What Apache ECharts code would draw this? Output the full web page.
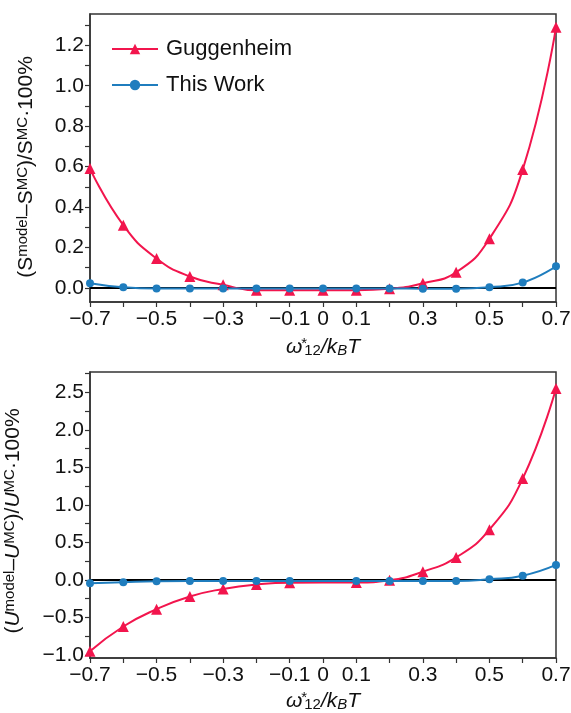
<!DOCTYPE html>
<html>
<head>
<meta charset="utf-8">
<script src="https://cdn.jsdelivr.net/npm/echarts@6/dist/echarts.min.js"></script>
<style>
  html, body { margin: 0; padding: 0; background: #fff; }
  #chart { width: 571px; height: 713px; }
</style>
</head>
<body>
<div id="chart"></div>
<script>
// Reduced interaction parameter ω*12 / kBT
const omegaEntropy = [-0.7, -0.6, -0.5, -0.4, -0.3, -0.2, -0.1, 0, 0.1, 0.2, 0.3, 0.4, 0.5, 0.6, 0.7];
// Relative deviation of entropy from MC, %
const entropyGuggenheim = [0.59, 0.31, 0.145, 0.056, 0.015, -0.012, -0.012, -0.012, -0.012, -0.005, 0.023, 0.077, 0.243, 0.585, 1.29];
const entropyThisWork = [0.023, 0.003, -0.003, -0.003, -0.003, -0.003, -0.003, -0.003, -0.003, -0.003, -0.004, -0.004, 0.003, 0.026, 0.107];

// The energy panel has no point at ω = 0
const omegaEnergy = [-0.7, -0.6, -0.5, -0.4, -0.3, -0.2, -0.1, 0.1, 0.2, 0.3, 0.4, 0.5, 0.6, 0.7];
// Relative deviation of internal energy from MC, %
const energyGuggenheim = [-0.95, -0.62, -0.39, -0.22, -0.12, -0.06, -0.036, -0.035, -0.005, 0.11, 0.30, 0.67, 1.35, 2.55];
const energyThisWork = [-0.045, -0.03, -0.018, -0.015, -0.015, -0.015, -0.013, -0.013, -0.013, -0.013, -0.013, 0.01, 0.057, 0.2];

// Axis ticks and labels
const xTicks = [-0.7, -0.6, -0.5, -0.4, -0.3, -0.2, -0.1, 0, 0.1, 0.2, 0.3, 0.4, 0.5, 0.6, 0.7];
const xLabels = [-0.7, -0.5, -0.3, -0.1, 0, 0.1, 0.3, 0.5, 0.7];
const entropyTicks = [0, 0.1, 0.2, 0.3, 0.4, 0.5, 0.6, 0.7, 0.8, 0.9, 1.0, 1.1, 1.2, 1.3];
const entropyLabels = [0, 0.2, 0.4, 0.6, 0.8, 1.0, 1.2];
const energyTicks = [-1, -0.75, -0.5, -0.25, 0, 0.25, 0.5, 0.75, 1, 1.25, 1.5, 1.75, 2, 2.25, 2.5, 2.75];
const energyLabels = [-1, -0.5, 0, 0.5, 1, 1.5, 2, 2.5];

const RED = '#F2154D';
const BLUE = '#1F7DBE';
const FONT = 'Liberation Sans, Arial, sans-serif';
const INK = '#111';

const pairs = (xs, ys) => xs.map((x, i) => [x, ys[i]]);
const minus = s => s.replace('-', '\u2212');

const chart = echarts.init(document.getElementById('chart'), null, { renderer: 'canvas' });

const titleRich = {
  t: { fontSize: 21, fontFamily: FONT, color: INK, lineHeight: 22 },
  ti: { fontSize: 21, fontFamily: FONT, color: INK, fontStyle: 'italic', lineHeight: 22 },
  sup: { fontSize: 15, fontFamily: FONT, color: INK, verticalAlign: 'top', lineHeight: 15, padding: [0, 0, 14, 0] },
  // star sits directly above the "12" subscript
  star: { fontSize: 15, fontFamily: FONT, color: INK, verticalAlign: 'top', lineHeight: 15, padding: [0, 0, 12, 2], width: 0.01, align: 'left' },
  sub: { fontSize: 15, fontFamily: FONT, color: INK, verticalAlign: 'bottom', lineHeight: 15, padding: [10, 0, 0, 0] },
  subi: { fontSize: 15, fontFamily: FONT, color: INK, fontStyle: 'italic', verticalAlign: 'bottom', lineHeight: 15, padding: [10, 0, 0, 0] }
};

const xName = '{ti|\u03c9}{star|*}{sub|12}{ti|/k}{subi|B}{ti|T}';

function xAxisFor(gridIndex, gap) {
  return {
    type: 'value', gridIndex, min: -0.7, max: 0.7,
    name: xName, nameLocation: 'middle', nameGap: gap,
    nameTextStyle: { rich: titleRich },
    axisLine: { show: true, onZero: false, lineStyle: { color: '#333', width: 1.5 } },
    axisTick: { show: true, inside: false, length: 5, customValues: xTicks, lineStyle: { color: '#333', width: 1.2 } },
    axisLabel: {
      customValues: xLabels, margin: 7, fontSize: 21, fontFamily: FONT, color: INK,
      formatter: v => v === 0 ? '0' : minus(v.toFixed(1))
    },
    splitLine: { show: false }
  };
}

function yAxisFor(gridIndex, min, max, ticks, labels, name, gap, shift) {
  return {
    type: 'value', gridIndex, min, max,
    name, nameLocation: 'middle', nameGap: gap, nameRotate: 90,
    nameTextStyle: { rich: titleRich, padding: [0, shift, 0, 0] },
    axisLine: { show: true, onZero: false, lineStyle: { color: '#333', width: 1.5 } },
    axisTick: { show: true, inside: false, length: 5, customValues: ticks, lineStyle: { color: '#333', width: 1.2 } },
    axisLabel: {
      customValues: labels, margin: 6, fontSize: 21, fontFamily: FONT, color: INK,
      formatter: v => minus(v.toFixed(1))
    },
    splitLine: { show: false }
  };
}

function curve(name, xs, ys, color, symbol, size, xi) {
  return {
    name, type: 'line', xAxisIndex: xi, yAxisIndex: xi,
    data: pairs(xs, ys), smooth: 0.5,
    symbol, symbolSize: size, showAllSymbol: true,
    lineStyle: { color, width: 2 }, itemStyle: { color },
    z: 3, clip: true
  };
}

function zeroLine(xi) {
  return {
    type: 'line', xAxisIndex: xi, yAxisIndex: xi, data: [], silent: true, z: 1,
    markLine: {
      silent: true, z: 1, symbol: ['none', 'none'], label: { show: false },
      lineStyle: { color: '#000', width: 2, type: 'solid' },
      data: [{ yAxis: 0 }]
    }
  };
}

const entropyName = '{t|(S}{sup|model}{t|\u2013S}{sup|MC}{t|)/S}{sup|MC}{t|\u00b7100%}';
const energyName = '{t|(}{ti|U}{sup|model}{t|\u2013}{ti|U}{sup|MC}{t|)/}{ti|U}{sup|MC}{t|\u00b7100%}';

chart.setOption({
  backgroundColor: '#fff',
  animation: false,
  textStyle: { fontFamily: FONT },
  grid: [
    { left: 90, right: 15, top: 14, height: 288, show: true, borderColor: '#333', borderWidth: 1.5, containLabel: false, outerBoundsMode: 'none' },
    { left: 90, right: 15, top: 372, height: 286, show: true, borderColor: '#333', borderWidth: 1.5, containLabel: false, outerBoundsMode: 'none' }
  ],
  legend: {
    data: ['Guggenheim', 'This Work'],
    orient: 'vertical', left: 106, top: 33,
    itemWidth: 46, itemHeight: 13, itemGap: 14,
    textStyle: { fontSize: 22, fontFamily: FONT, color: INK, padding: [0, 0, 0, 3] }
  },
  xAxis: [xAxisFor(0, 34), xAxisFor(1, 32)],
  yAxis: [
    yAxisFor(0, -0.07, 1.355, entropyTicks, entropyLabels, entropyName, 52, 18),
    yAxisFor(1, -1.04, 2.77, energyTicks, energyLabels, energyName, 52, 12)
  ],
  series: [
    zeroLine(0),
    zeroLine(1),
    curve('Guggenheim', omegaEntropy, entropyGuggenheim, RED, 'triangle', 11, 0),
    curve('This Work', omegaEntropy, entropyThisWork, BLUE, 'circle', 8, 0),
    curve('Guggenheim', omegaEnergy, energyGuggenheim, RED, 'triangle', 11, 1),
    curve('This Work', omegaEnergy, energyThisWork, BLUE, 'circle', 8, 1)
  ]
});
</script>
</body>
</html>
